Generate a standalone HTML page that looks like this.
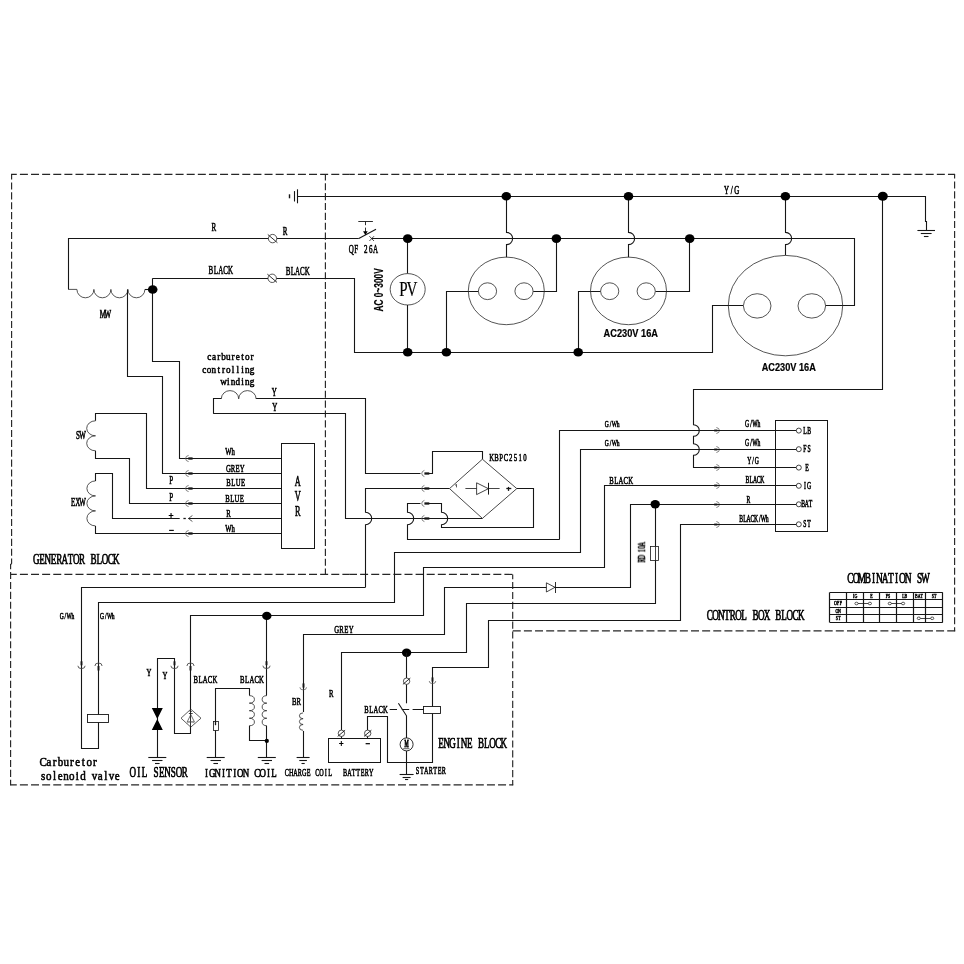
<!DOCTYPE html>
<html lang="en"><head><meta charset="utf-8"><title>Generator wiring diagram</title>
<style>
html,body{margin:0;padding:0;background:#fff;}
body{width:964px;height:964px;overflow:hidden;font-family:"Liberation Serif",serif;}
svg{display:block;}
</style></head>
<body>
<svg width="964" height="964" viewBox="0 0 964 964">
<rect width="964" height="964" fill="#fff"/>
<path d="M11.0 174.4 L349.3 174.4" fill="none" stroke="#262626" stroke-width="1.15" stroke-dasharray="8.0 3.120" stroke-dashoffset="2.22"/>
<path d="M349.3 174.4 L955.1 174.4" fill="none" stroke="#262626" stroke-width="1.15" stroke-dasharray="8.0 3.133" stroke-dashoffset="2.53"/>
<path d="M11.6 174.4 L11.6 563.4" fill="none" stroke="#262626" stroke-width="1.15" stroke-dasharray="7.1 2.800" stroke-dashoffset="1.90"/>
<path d="M11.6 563 Q11.6 564.2 10.6 564.4" fill="none" stroke="#262626" stroke-width="1.1" />
<path d="M10.6 563.9 L10.6 785.3" fill="none" stroke="#262626" stroke-width="1.15" stroke-dasharray="7.1 2.790" stroke-dashoffset="1.79"/>
<path d="M325.4 174.4 L325.4 574.4" fill="none" stroke="#262626" stroke-width="1.15" stroke-dasharray="7.1 2.782" stroke-dashoffset="1.08"/>
<path d="M10.6 574.4 L349.3 574.4" fill="none" stroke="#262626" stroke-width="1.15" stroke-dasharray="8.0 3.120" stroke-dashoffset="1.82"/>
<path d="M349.3 574.4 L513.2 574.4" fill="none" stroke="#262626" stroke-width="1.15" stroke-dasharray="8.0 3.100" stroke-dashoffset="0.30"/>
<path d="M512.7 574.4 L512.7 785.3" fill="none" stroke="#262626" stroke-width="1.15" stroke-dasharray="7.1 2.800" stroke-dashoffset="2.30"/>
<path d="M10.1 784.8 L513.2 784.8" fill="none" stroke="#262626" stroke-width="1.15" stroke-dasharray="8.0 3.120" stroke-dashoffset="1.32"/>
<path d="M512.2 630.8 L955.2 630.8" fill="none" stroke="#262626" stroke-width="1.15" stroke-dasharray="8.0 3.140" stroke-dashoffset="10.58"/>
<path d="M954.6 174.4 L954.6 631.3" fill="none" stroke="#262626" stroke-width="1.15" stroke-dasharray="7.1 2.805" stroke-dashoffset="2.90"/>
<path d="M297.5 196.5 L925.5 196.5 L925.5 221.5 L926.5 221.5 L926.5 230.3" fill="none" stroke="#161616" stroke-width="1.1" />
<path d="M297.5 189.3 L297.5 203.3" fill="none" stroke="#161616" stroke-width="1.1" />
<path d="M294.5 191.1 L294.5 201.5" fill="none" stroke="#161616" stroke-width="1.1" />
<path d="M289.5 194.3 L289.5 198.3" fill="none" stroke="#161616" stroke-width="1.4" />
<path d="M917.4 230.5 L935.0 230.5" fill="none" stroke="#161616" stroke-width="1.1" />
<path d="M920.8 233.5 L931.6 233.5" fill="none" stroke="#161616" stroke-width="1.1" />
<path d="M923.9 236.5 L928.5 236.5" fill="none" stroke="#161616" stroke-width="1.1" />
<path d="M68.5 289.4 L68.5 238.5 L358.8 238.5" fill="none" stroke="#161616" stroke-width="1.1" />
<path d="M371.7 238.5 L854.5 238.5 L854.5 305.5 L825.4 305.5" fill="none" stroke="#161616" stroke-width="1.1" />
<path d="M68.4 289.4 L76.9 289.4 A8.5 8.4 0 0 0 93.9 289.4 A8.5 8.4 0 0 0 110.9 289.4 A8.5 8.4 0 0 0 127.9 289.4 A8.5 8.4 0 0 0 144.9 289.4 " fill="none" stroke="#2a2a2a" stroke-width="0.8" />
<path d="M144.9 289.5 L152.7 289.5" fill="none" stroke="#161616" stroke-width="1.1" />
<path d="M152.7 278.5 L354.5 278.5 L354.5 352.5 L712.5 352.5 L712.5 305.5 L743.0 305.5" fill="none" stroke="#161616" stroke-width="1.1" />
<path d="M152.5 278.3 L152.5 361.5 L179.5 361.5 L179.5 458.5 L185.0 458.5" fill="none" stroke="#161616" stroke-width="1.1" />
<path d="M127.5 289.4 L127.5 376.5 L162.5 376.5 L162.5 473.5 L185.0 473.5" fill="none" stroke="#161616" stroke-width="1.1" />
<ellipse cx="152.7" cy="289.5" rx="4.8" ry="4.3" fill="#000"/>
<circle cx="272.6" cy="238.6" r="4.2" fill="#fff" stroke="#2a2a2a" stroke-width="0.8"/>
<path d="M267.8 234.5 L277.4 242.7" fill="none" stroke="#161616" stroke-width="0.9" />
<circle cx="272.2" cy="278.3" r="4.2" fill="#fff" stroke="#2a2a2a" stroke-width="0.8"/>
<path d="M267.4 274.2 L277.0 282.4" fill="none" stroke="#161616" stroke-width="0.9" />
<path d="M358.8 238.6 L376.0 229.2" fill="none" stroke="#161616" stroke-width="1.1" />
<path d="M369.4 236.2 L374.0 241.0" fill="none" stroke="#161616" stroke-width="0.8" />
<path d="M369.4 241.0 L374.0 236.2" fill="none" stroke="#161616" stroke-width="0.8" />
<path d="M358.3 221.5 L372.9 221.5" fill="none" stroke="#161616" stroke-width="0.9" />
<path d="M365.5 221.4 L365.5 225.2" fill="none" stroke="#161616" stroke-width="0.9" />
<path d="M365.5 227.6 L365.5 232.0" fill="none" stroke="#161616" stroke-width="0.9" />
<path d="M363.1 231.2 L367.7 231.2 L365.4 235.2 Z" fill="#000"/>
<path d="M407.5 238.6 L407.5 352.2" fill="none" stroke="#161616" stroke-width="1.1" />
<ellipse cx="407.7" cy="289.3" rx="17.5" ry="15.7" fill="#fff" stroke="#2a2a2a" stroke-width="0.8"/>
<ellipse cx="407.7" cy="238.6" rx="4.8" ry="4.3" fill="#000"/>
<ellipse cx="407.7" cy="352.2" rx="4.8" ry="4.3" fill="#000"/>
<path d="M506.5 196.3 L506.5 232.4 A6.1 6.1 0 0 1 506.5 244.6 L506.5 257.2" fill="none" stroke="#161616" stroke-width="1.1" />
<path d="M478.9 291.5 L446.5 291.5 L446.5 352.2" fill="none" stroke="#161616" stroke-width="1.1" />
<path d="M533.1 291.5 L556.5 291.5 L556.5 238.6" fill="none" stroke="#161616" stroke-width="1.1" />
<ellipse cx="506.3" cy="290.9" rx="38.0" ry="33.8" fill="none" stroke="#2a2a2a" stroke-width="0.8"/>
<ellipse cx="487.5" cy="291.2" rx="9.1" ry="8.4" fill="#fff" stroke="#2a2a2a" stroke-width="0.8"/>
<ellipse cx="524.0" cy="291.2" rx="9.1" ry="8.4" fill="#fff" stroke="#2a2a2a" stroke-width="0.8"/>
<ellipse cx="506.3" cy="196.3" rx="4.8" ry="4.3" fill="#000"/>
<ellipse cx="446.4" cy="352.2" rx="4.8" ry="4.3" fill="#000"/>
<ellipse cx="556.4" cy="238.6" rx="4.8" ry="4.3" fill="#000"/>
<path d="M628.5 196.3 L628.5 232.4 A6.1 6.1 0 0 1 628.5 244.6 L628.5 257.2" fill="none" stroke="#161616" stroke-width="1.1" />
<path d="M601.1 291.5 L578.5 291.5 L578.5 352.2" fill="none" stroke="#161616" stroke-width="1.1" />
<path d="M655.3 291.5 L689.5 291.5 L689.5 238.6" fill="none" stroke="#161616" stroke-width="1.1" />
<ellipse cx="628.5" cy="290.9" rx="38.0" ry="33.8" fill="none" stroke="#2a2a2a" stroke-width="0.8"/>
<ellipse cx="609.7" cy="291.2" rx="9.1" ry="8.4" fill="#fff" stroke="#2a2a2a" stroke-width="0.8"/>
<ellipse cx="646.2" cy="291.2" rx="9.1" ry="8.4" fill="#fff" stroke="#2a2a2a" stroke-width="0.8"/>
<ellipse cx="628.5" cy="196.3" rx="4.8" ry="4.3" fill="#000"/>
<ellipse cx="578.2" cy="352.2" rx="4.8" ry="4.3" fill="#000"/>
<ellipse cx="689.7" cy="238.6" rx="4.8" ry="4.3" fill="#000"/>
<path d="M785.5 196.3 L785.5 232.4 A6.1 6.1 0 0 1 785.5 244.6 L785.5 255.3" fill="none" stroke="#161616" stroke-width="1.1" />
<ellipse cx="785.5" cy="305.6" rx="57.2" ry="50.2" fill="none" stroke="#2a2a2a" stroke-width="0.8"/>
<ellipse cx="757.2" cy="305.90000000000003" rx="13.8" ry="12.2" fill="#fff" stroke="#2a2a2a" stroke-width="0.8"/>
<ellipse cx="811.8" cy="305.90000000000003" rx="13.8" ry="12.2" fill="#fff" stroke="#2a2a2a" stroke-width="0.8"/>
<ellipse cx="785.4" cy="196.3" rx="4.8" ry="4.3" fill="#000"/>
<path d="M882.5 196.3 L882.5 389.5 L693.5 389.5 L693.5 424.7 A5.8 5.8 0 0 1 693.5 436.3 L693.5 443.7 A5.8 5.8 0 0 1 693.5 455.3 L693.5 467.5 L796.3 467.5" fill="none" stroke="#161616" stroke-width="1.1" />
<ellipse cx="882.8" cy="196.3" rx="5" ry="4.5" fill="#000"/>
<rect x="775.5" y="420.5" width="52.0" height="111.0" fill="none" stroke="#161616" stroke-width="1"/>
<circle cx="798.8" cy="430.6" r="2.5" fill="#fff" stroke="#161616" stroke-width="0.8"/>
<path d="M714.2 430.5 L717.4 430.5" fill="none" stroke="#161616" stroke-width="1.9" />
<path d="M716.4 427.5 A4 3.1 0 0 1 716.4 433.5" fill="none" stroke="#555" stroke-width="0.75" />
<circle cx="798.8" cy="449.2" r="2.5" fill="#fff" stroke="#161616" stroke-width="0.8"/>
<path d="M714.2 449.5 L717.4 449.5" fill="none" stroke="#161616" stroke-width="1.9" />
<path d="M716.4 446.5 A4 3.1 0 0 1 716.4 452.5" fill="none" stroke="#555" stroke-width="0.75" />
<circle cx="798.8" cy="467.6" r="2.5" fill="#fff" stroke="#161616" stroke-width="0.8"/>
<path d="M714.2 467.5 L717.4 467.5" fill="none" stroke="#161616" stroke-width="1.9" />
<path d="M716.4 464.5 A4 3.1 0 0 1 716.4 470.5" fill="none" stroke="#555" stroke-width="0.75" />
<circle cx="798.8" cy="485.8" r="2.5" fill="#fff" stroke="#161616" stroke-width="0.8"/>
<path d="M714.2 485.5 L717.4 485.5" fill="none" stroke="#161616" stroke-width="1.9" />
<path d="M716.4 482.5 A4 3.1 0 0 1 716.4 488.5" fill="none" stroke="#555" stroke-width="0.75" />
<circle cx="798.8" cy="504.3" r="2.5" fill="#fff" stroke="#161616" stroke-width="0.8"/>
<path d="M714.2 504.5 L717.4 504.5" fill="none" stroke="#161616" stroke-width="1.9" />
<path d="M716.4 501.5 A4 3.1 0 0 1 716.4 507.5" fill="none" stroke="#555" stroke-width="0.75" />
<circle cx="798.8" cy="524.3" r="2.5" fill="#fff" stroke="#161616" stroke-width="0.8"/>
<path d="M714.2 524.5 L717.4 524.5" fill="none" stroke="#161616" stroke-width="1.9" />
<path d="M716.4 521.5 A4 3.1 0 0 1 716.4 527.5" fill="none" stroke="#555" stroke-width="0.75" />
<path d="M796.3 430.5 L559.5 430.5 L559.5 539.4" fill="none" stroke="#161616" stroke-width="1.1" />
<path d="M796.3 449.5 L580.5 449.5 L580.5 552.5 L394.5 552.5 L394.5 602.5 L98.5 602.5 L98.5 748.5 L81.5 748.5 L81.5 587.5 L365.3 587.5" fill="none" stroke="#161616" stroke-width="1.1" />
<path d="M796.3 485.5 L604.5 485.5 L604.5 567.5 L423.5 567.5 L423.5 615.5 L190.5 615.5 L190.5 733.5 L174.5 733.5 L174.5 658.5 L157.5 658.5 L157.5 757.3" fill="none" stroke="#161616" stroke-width="1.1" />
<path d="M796.3 504.5 L630.5 504.5 L630.5 587.5 L444.5 587.5 L444.5 634.5 L303.5 634.5 L303.5 757.3" fill="none" stroke="#161616" stroke-width="1.1" />
<path d="M655.5 504.3 L655.5 603.5 L466.5 603.5 L466.5 652.5 L341.5 652.5 L341.5 730.5" fill="none" stroke="#161616" stroke-width="1.1" />
<path d="M796.3 524.5 L680.5 524.5 L680.5 620.5 L488.5 620.5 L488.5 667.5 L432.5 667.5 L432.5 762.5 L387.5 762.5 L387.5 716.5 L367.5 716.5 L367.5 730.5" fill="none" stroke="#161616" stroke-width="1.1" />
<ellipse cx="655.2" cy="504.3" rx="4.7" ry="4.2" fill="#000"/>
<rect x="650.5" y="546.5" width="8.0" height="14.0" fill="#fff" stroke="#161616" stroke-width="0.8"/>
<path d="M655.5 546.6 L655.5 560.9" fill="none" stroke="#161616" stroke-width="0.8" />
<path d="M546.4 582.8 L546.4 592 L555 587.3 Z" fill="#fff" stroke="#161616" stroke-width="0.8"/>
<path d="M555.5 582.0 L555.5 593.0" fill="none" stroke="#161616" stroke-width="0.9" />
<path d="M213.5 413.6 L213.5 398.5 L221.3 398.5" fill="none" stroke="#161616" stroke-width="1.1" />
<path d="M221.3 398.9 A8.7 8.3 0 0 1 238.7 398.9 A8.7 8.3 0 0 1 256.1 398.9" fill="none" stroke="#2a2a2a" stroke-width="0.8" />
<path d="M256.1 398.5 L365.5 398.5 L365.5 473.5 L420.5 473.5" fill="none" stroke="#161616" stroke-width="1.1" />
<path d="M429.0 473.5 L432.5 473.5 L432.5 451.5 L482.5 451.5 L482.5 459.2" fill="none" stroke="#161616" stroke-width="1.1" />
<path d="M213.2 413.5 L345.5 413.5 L345.5 518.5 L482.4 518.5" fill="none" stroke="#161616" stroke-width="1.1" />
<path d="M365.5 587.4 L365.5 524.7 A6.2 6.2 0 0 0 365.5 512.3 L365.5 488.5 L449.5 488.5" fill="none" stroke="#161616" stroke-width="1.1" />
<path d="M559.6 539.5 L407.5 539.5 L407.5 524.7 A6.2 6.2 0 0 0 407.5 512.3 L407.5 503.5 L420.5 503.5" fill="none" stroke="#161616" stroke-width="1.1" />
<path d="M429.0 503.5 L441.5 503.5 L441.5 512.3 A6.2 6.2 0 0 1 441.5 524.7 L441.5 527.5 L533.5 527.5 L533.5 488.5 L516.8 488.5" fill="none" stroke="#161616" stroke-width="1.1" />
<path d="M482.4 459.2 L516.8 488.6 L482.4 518.4 L449.5 488.6 Z" fill="none" stroke="#333" stroke-width="0.9" />
<path d="M465.4 488.5 L499.6 488.5" fill="none" stroke="#161616" stroke-width="0.8" />
<path d="M476.6 482.8 L476.6 494.6 L488.4 488.7 Z" fill="#fff" stroke="#161616" stroke-width="0.8"/>
<path d="M488.5 482.8 L488.5 494.6" fill="none" stroke="#161616" stroke-width="1.0" />
<path d="M506.3 488.5 L511.3 488.5" fill="none" stroke="#161616" stroke-width="1.3" />
<path d="M508.5 486.9 L508.5 490.9" fill="none" stroke="#161616" stroke-width="1.3" />
<path d="M455.0 485.3 L456.5 484.4 L456.5 487.4" fill="none" stroke="#161616" stroke-width="0.7" />
<path d="M424.4 470.4 A4 3.3 0 0 0 424.4 476.6" fill="none" stroke="#555" stroke-width="0.75" />
<path d="M424.4 473.5 L429.3 473.5" fill="none" stroke="#161616" stroke-width="2.3" />
<path d="M424.4 485.4 A4 3.3 0 0 0 424.4 491.6" fill="none" stroke="#555" stroke-width="0.75" />
<path d="M424.4 488.5 L429.3 488.5" fill="none" stroke="#161616" stroke-width="2.3" />
<path d="M424.4 500.4 A4 3.3 0 0 0 424.4 506.6" fill="none" stroke="#555" stroke-width="0.75" />
<path d="M424.4 503.5 L429.3 503.5" fill="none" stroke="#161616" stroke-width="2.3" />
<path d="M424.4 515.4 A4 3.3 0 0 0 424.4 521.6" fill="none" stroke="#555" stroke-width="0.75" />
<path d="M424.4 518.5 L429.3 518.5" fill="none" stroke="#161616" stroke-width="2.3" />
<rect x="281.5" y="443.5" width="33.0" height="105.0" fill="none" stroke="#161616" stroke-width="1"/>
<path d="M185.0 458.5 L281.2 458.5" fill="none" stroke="#161616" stroke-width="1.1" />
<path d="M188.6 455.4 A4 3.2 0 0 0 188.6 461.6" fill="none" stroke="#555" stroke-width="0.75" />
<path d="M188.3 458.5 L192.6 458.5" fill="none" stroke="#161616" stroke-width="2.3" />
<path d="M185.0 473.5 L281.2 473.5" fill="none" stroke="#161616" stroke-width="1.1" />
<path d="M188.6 470.4 A4 3.2 0 0 0 188.6 476.6" fill="none" stroke="#555" stroke-width="0.75" />
<path d="M188.3 473.5 L192.6 473.5" fill="none" stroke="#161616" stroke-width="2.3" />
<path d="M185.0 488.5 L281.2 488.5" fill="none" stroke="#161616" stroke-width="1.1" />
<path d="M188.6 485.4 A4 3.2 0 0 0 188.6 491.6" fill="none" stroke="#555" stroke-width="0.75" />
<path d="M188.3 488.5 L192.6 488.5" fill="none" stroke="#161616" stroke-width="2.3" />
<path d="M185.0 503.5 L281.2 503.5" fill="none" stroke="#161616" stroke-width="1.1" />
<path d="M188.6 500.4 A4 3.2 0 0 0 188.6 506.6" fill="none" stroke="#555" stroke-width="0.75" />
<path d="M188.3 503.5 L192.6 503.5" fill="none" stroke="#161616" stroke-width="2.3" />
<path d="M188.2 518.5 L281.2 518.5" fill="none" stroke="#161616" stroke-width="1.1" />
<path d="M192.4 515.5 L188.4 518.5 L192.4 521.5" fill="none" stroke="#333" stroke-width="0.8" />
<path d="M183.4 518.5 L185.8 518.5" fill="none" stroke="#161616" stroke-width="1.3" />
<path d="M185.0 533.5 L281.2 533.5" fill="none" stroke="#161616" stroke-width="1.1" />
<path d="M188.6 530.4 A4 3.2 0 0 0 188.6 536.6" fill="none" stroke="#555" stroke-width="0.75" />
<path d="M188.3 533.5 L192.6 533.5" fill="none" stroke="#161616" stroke-width="2.3" />
<path d="M185.0 488.5 L146.5 488.5 L146.5 413.5 L95.5 413.5 L95.5 420.8" fill="none" stroke="#161616" stroke-width="1.1" />
<path d="M95.5 420.8 A8.8 7.5 0 0 0 95.5 435.8 A8.8 7.5 0 0 0 95.5 450.8" fill="none" stroke="#2a2a2a" stroke-width="0.8" />
<path d="M95.5 450.8 L95.5 458.5 L129.5 458.5 L129.5 503.5 L185.0 503.5" fill="none" stroke="#161616" stroke-width="1.1" />
<path d="M179.7 518.5 L112.5 518.5 L112.5 473.5 L95.5 473.5 L95.5 480.9" fill="none" stroke="#161616" stroke-width="1.1" />
<path d="M95.5 480.9 A8.6 7.5 0 0 0 95.5 495.9 A8.6 7.5 0 0 0 95.5 510.9 A8.6 7.5 0 0 0 95.5 525.9" fill="none" stroke="#2a2a2a" stroke-width="0.8" />
<path d="M95.5 525.9 L95.5 533.5 L185.0 533.5" fill="none" stroke="#161616" stroke-width="1.1" />
<path d="M81.5 661.3 L81.5 665.3" fill="none" stroke="#161616" stroke-width="1.9" />
<path d="M77.9 665.8 A3.6 2.8 0 0 0 85.1 665.8" fill="none" stroke="#4a4a4a" stroke-width="0.9" />
<path d="M94.9 666.0 A3.6 3.0 0 0 1 102.1 666.0" fill="none" stroke="#4a4a4a" stroke-width="0.9" />
<path d="M98.5 666.0 L98.5 670.5" fill="none" stroke="#161616" stroke-width="1.9" />
<path d="M174.5 661.3 L174.5 665.3" fill="none" stroke="#161616" stroke-width="1.9" />
<path d="M170.9 665.8 A3.6 2.8 0 0 0 178.1 665.8" fill="none" stroke="#4a4a4a" stroke-width="0.9" />
<path d="M186.9 666.0 A3.6 3.0 0 0 1 194.1 666.0" fill="none" stroke="#4a4a4a" stroke-width="0.9" />
<path d="M190.5 666.0 L190.5 670.5" fill="none" stroke="#161616" stroke-width="1.9" />
<rect x="87.5" y="714.5" width="21.0" height="8.0" fill="#fff" stroke="#161616" stroke-width="0.9"/>
<path d="M151.8 708.1 L162.8 708.1 L157.3 719 Z M157.3 719 L162.8 729.9 L151.8 729.9 Z" fill="#000"/>
<path d="M148.3 757.5 L166.3 757.5" fill="none" stroke="#161616" stroke-width="1.1" />
<path d="M152.1 760.5 L162.5 760.5" fill="none" stroke="#161616" stroke-width="1.1" />
<path d="M155.0 763.5 L159.6 763.5" fill="none" stroke="#161616" stroke-width="1.1" />
<path d="M190.8 709.2 L201 718.2 L190.8 727.1 L181 718.2 Z" fill="#fff" stroke="#333" stroke-width="0.8"/>
<path d="M190.5 709.2 L190.5 733.4" fill="none" stroke="#161616" stroke-width="0.9" />
<path d="M190.8 714.6 L194.4 721.9 L187.2 721.9 Z" fill="none" stroke="#333" stroke-width="0.7"/>
<path d="M188.9 713.5 L192.7 713.5" fill="none" stroke="#161616" stroke-width="0.8" />
<path d="M189.6 711.5 L192.0 711.5" fill="none" stroke="#161616" stroke-width="0.6" />
<path d="M186.5 723.6 Q190.8 719.8 195.1 723.6" fill="none" stroke="#666" stroke-width="0.5" />
<path d="M266.5 615.9 L266.5 695.6" fill="none" stroke="#161616" stroke-width="1.1" />
<ellipse cx="266.8" cy="615.9" rx="4.7" ry="4.2" fill="#000"/>
<path d="M266.5 661.2 L266.5 665.2" fill="none" stroke="#161616" stroke-width="1.9" />
<path d="M262.9 665.7 A3.6 2.8 0 0 0 270.1 665.7" fill="none" stroke="#4a4a4a" stroke-width="0.9" />
<path d="M266.8 695.6 A4.9 3.78 0 0 0 266.8 703.15 A4.9 3.78 0 0 0 266.8 710.70 A4.9 3.78 0 0 0 266.8 718.25 A4.9 3.78 0 0 0 266.8 725.80 " fill="none" stroke="#2a2a2a" stroke-width="0.8" />
<path d="M266.5 725.8 L266.5 757.3" fill="none" stroke="#161616" stroke-width="1.1" />
<path d="M257.8 757.5 L275.8 757.5" fill="none" stroke="#161616" stroke-width="1.1" />
<path d="M261.6 760.5 L272.0 760.5" fill="none" stroke="#161616" stroke-width="1.1" />
<path d="M264.5 763.5 L269.1 763.5" fill="none" stroke="#161616" stroke-width="1.1" />
<path d="M249.3 695.6 A5.4 3.78 0 0 1 249.3 703.15 A5.4 3.78 0 0 1 249.3 710.70 A5.4 3.78 0 0 1 249.3 718.25 A5.4 3.78 0 0 1 249.3 725.80 " fill="none" stroke="#2a2a2a" stroke-width="0.8" />
<path d="M215.5 757.3 L215.5 688.5 L249.5 688.5 L249.5 695.6" fill="none" stroke="#161616" stroke-width="1.1" />
<path d="M249.5 725.8 L249.5 740.5 L266.8 740.5" fill="none" stroke="#161616" stroke-width="1.1" />
<circle cx="266.8" cy="740.9" r="2.1" fill="#000"/>
<rect x="213.5" y="721.5" width="5.0" height="9.0" fill="#fff" stroke="#161616" stroke-width="0.8"/>
<path d="M215.5 721.2 L215.5 725.2" fill="none" stroke="#161616" stroke-width="1.3" />
<path d="M206.7 757.5 L224.7 757.5" fill="none" stroke="#161616" stroke-width="1.1" />
<path d="M210.5 760.5 L220.9 760.5" fill="none" stroke="#161616" stroke-width="1.1" />
<path d="M213.4 763.5 L218.0 763.5" fill="none" stroke="#161616" stroke-width="1.1" />
<path d="M299.9 687.3 A3.3 2.6 0 0 0 306.5 687.3" fill="none" stroke="#555" stroke-width="0.7" />
<path d="M303.5 683.4 L303.5 687.6" fill="none" stroke="#161616" stroke-width="1.9" />
<rect x="301" y="712" width="4" height="19" fill="#fff"/>
<path d="M303.1 712.9 A3.7 2.9 0 0 0 303.1 718.7 A3.7 2.9 0 0 0 303.1 724.5 A3.7 2.9 0 0 0 303.1 730.3" fill="none" stroke="#2a2a2a" stroke-width="0.8" />
<path d="M296.6 757.5 L309.6 757.5" fill="none" stroke="#161616" stroke-width="1.1" />
<path d="M299.3 760.5 L306.9 760.5" fill="none" stroke="#161616" stroke-width="1.1" />
<path d="M301.5 763.5 L304.7 763.5" fill="none" stroke="#161616" stroke-width="1.1" />
<rect x="328.5" y="738.5" width="52.0" height="24.0" fill="#fff" stroke="#161616" stroke-width="1"/>
<path d="M341.5 736.0 L341.5 738.5" fill="none" stroke="#161616" stroke-width="1.1" />
<path d="M367.5 736.0 L367.5 738.5" fill="none" stroke="#161616" stroke-width="1.1" />
<circle cx="341.4" cy="733.3" r="3.2" fill="#fff" stroke="#2a2a2a" stroke-width="0.8"/>
<path d="M337.7 736.4 L345.1 730.2" fill="none" stroke="#161616" stroke-width="0.9" />
<circle cx="367.7" cy="733.3" r="3.2" fill="#fff" stroke="#2a2a2a" stroke-width="0.8"/>
<path d="M364.0 736.4 L371.4 730.2" fill="none" stroke="#161616" stroke-width="0.9" />
<ellipse cx="406.6" cy="652.7" rx="4.7" ry="4.2" fill="#000"/>
<path d="M406.5 652.7 L406.5 703.3" fill="none" stroke="#161616" stroke-width="1.1" />
<circle cx="406.6" cy="681.2" r="3.2" fill="#fff" stroke="#2a2a2a" stroke-width="0.8"/>
<path d="M402.9 684.3 L410.3 678.1" fill="none" stroke="#161616" stroke-width="0.9" />
<path d="M398.4 703.3 L406.5 715.8 L406.5 774.4" fill="none" stroke="#161616" stroke-width="1.1" />
<circle cx="406.6" cy="744.4" r="6.5" fill="#fff" stroke="#161616" stroke-width="0.9"/>
<path d="M403.2 748.7 L409.4 748.7" fill="none" stroke="#161616" stroke-width="0.7" />
<path d="M399.6 774.5 L413.6 774.5" fill="none" stroke="#161616" stroke-width="1.1" />
<path d="M402.6 777.5 L410.6 777.5" fill="none" stroke="#161616" stroke-width="1.1" />
<path d="M405.0 779.5 L408.2 779.5" fill="none" stroke="#161616" stroke-width="1.1" />
<rect x="423.5" y="706.5" width="17.0" height="7.0" fill="#fff" stroke="#161616" stroke-width="0.9"/>
<path d="M389.7 709.5 L397.0 709.5" fill="none" stroke="#161616" stroke-width="1.0" />
<path d="M401.8 709.5 L409.2 709.5" fill="none" stroke="#161616" stroke-width="1.0" />
<path d="M412.6 709.5 L424.0 709.5" fill="none" stroke="#161616" stroke-width="1.0" />
<path d="M429.2 681 A3.3 2.6 0 0 0 435.8 681" fill="none" stroke="#555" stroke-width="0.7" />
<path d="M432.5 677.4 L432.5 681.6" fill="none" stroke="#161616" stroke-width="1.9" />
<path d="M829.5 592.4 L829.5 622.5" fill="none" stroke="#161616" stroke-width="1.2" />
<path d="M846.5 592.4 L846.5 622.5" fill="none" stroke="#161616" stroke-width="1.2" />
<path d="M863.5 592.4 L863.5 622.5" fill="none" stroke="#161616" stroke-width="1.2" />
<path d="M879.5 592.4 L879.5 622.5" fill="none" stroke="#161616" stroke-width="1.2" />
<path d="M896.5 592.4 L896.5 622.5" fill="none" stroke="#161616" stroke-width="1.2" />
<path d="M913.5 592.4 L913.5 622.5" fill="none" stroke="#161616" stroke-width="1.2" />
<path d="M925.5 592.4 L925.5 622.5" fill="none" stroke="#161616" stroke-width="1.2" />
<path d="M942.5 592.4 L942.5 622.5" fill="none" stroke="#161616" stroke-width="1.2" />
<path d="M829.8 592.5 L942.7 592.5" fill="none" stroke="#161616" stroke-width="1.2" />
<path d="M829.8 599.5 L942.7 599.5" fill="none" stroke="#161616" stroke-width="1.2" />
<path d="M829.8 607.5 L942.7 607.5" fill="none" stroke="#161616" stroke-width="1.2" />
<path d="M829.8 614.5 L942.7 614.5" fill="none" stroke="#161616" stroke-width="1.2" />
<path d="M829.8 622.5 L942.7 622.5" fill="none" stroke="#161616" stroke-width="1.2" />
<path d="M856.5 603.5 L869.9 603.5" fill="none" stroke="#161616" stroke-width="0.8" />
<ellipse cx="856.5" cy="603.5" rx="1.6" ry="1.3" fill="#fff" stroke="#161616" stroke-width="0.7"/>
<ellipse cx="869.9" cy="603.5" rx="1.6" ry="1.3" fill="#fff" stroke="#161616" stroke-width="0.7"/>
<path d="M889.8 603.5 L903.1 603.5" fill="none" stroke="#161616" stroke-width="0.8" />
<ellipse cx="889.8" cy="603.5" rx="1.6" ry="1.3" fill="#fff" stroke="#161616" stroke-width="0.7"/>
<ellipse cx="903.1" cy="603.5" rx="1.6" ry="1.3" fill="#fff" stroke="#161616" stroke-width="0.7"/>
<path d="M918.8 618.5 L932.2 618.5" fill="none" stroke="#161616" stroke-width="0.8" />
<ellipse cx="918.8" cy="618.3" rx="1.6" ry="1.3" fill="#fff" stroke="#161616" stroke-width="0.7"/>
<ellipse cx="932.2" cy="618.3" rx="1.6" ry="1.3" fill="#fff" stroke="#161616" stroke-width="0.7"/>
<g style="will-change:transform">
<text transform="translate(211.2 230.8) scale(0.600 1)" x="4.25" y="0" text-anchor="middle" font-family='"Liberation Serif",serif' font-size="11.66" stroke="#000" stroke-width="0.5" vector-effect="non-scaling-stroke" fill="#000">R</text>
<text transform="translate(208.5 273.8) scale(0.600 1)" x="4.08 12.25 20.42 28.58 36.75" y="0" text-anchor="middle" font-family='"Liberation Serif",serif' font-size="11.66" stroke="#000" stroke-width="0.5" vector-effect="non-scaling-stroke" fill="#000">BLACK</text>
<text transform="translate(282.5 234.9) scale(0.600 1)" x="4.25" y="0" text-anchor="middle" font-family='"Liberation Serif",serif' font-size="11.66" stroke="#000" stroke-width="0.5" vector-effect="non-scaling-stroke" fill="#000">R</text>
<text transform="translate(285.6 275.2) scale(0.600 1)" x="4.00 12.00 20.00 28.00 36.00" y="0" text-anchor="middle" font-family='"Liberation Serif",serif' font-size="11.66" stroke="#000" stroke-width="0.5" vector-effect="non-scaling-stroke" fill="#000">BLACK</text>
<text transform="translate(100.2 318.4) scale(0.600 1)" x="4.29 12.88" y="0" text-anchor="middle" font-family='"Liberation Serif",serif' font-size="11.66" stroke="#000" stroke-width="0.5" vector-effect="non-scaling-stroke" fill="#000">MW</text>
<text transform="translate(348.9 252.8) scale(0.600 1)" x="4.03 12.08 20.14 28.19 36.25 44.31" y="0" text-anchor="middle" font-family='"Liberation Serif",serif' font-size="11.66" stroke="#000" stroke-width="0.5" vector-effect="non-scaling-stroke" fill="#000">QF 26A</text>
<text transform="translate(399.0 296.3) scale(0.727 1)" x="5.95 17.84" y="0" text-anchor="middle" font-family='"Liberation Serif",serif' font-size="20.68" stroke="#000" stroke-width="0.2" vector-effect="non-scaling-stroke" fill="#000">PV</text>
<text x="383.2" y="311.6" font-family='"Liberation Sans",sans-serif' font-size="13.2" textLength="43.4" lengthAdjust="spacingAndGlyphs" font-weight="bold" stroke="#000" stroke-width="0.2" transform="rotate(-90 383.2 311.6)" fill="#000">AC 0~300V</text>
<text transform="translate(724.0 194.4) scale(0.600 1)" x="4.22 12.67 21.11" y="0" text-anchor="middle" font-family='"Liberation Serif",serif' font-size="11.66" stroke="#000" stroke-width="0.5" vector-effect="non-scaling-stroke" fill="#000">Y/G</text>
<text x="603.6" y="337.4" font-family='"Liberation Sans",sans-serif' font-size="10" textLength="54.4" lengthAdjust="spacingAndGlyphs" font-weight="bold" stroke="#000" stroke-width="0.2" fill="#000">AC230V 16A</text>
<text x="761.7" y="371.2" font-family='"Liberation Sans",sans-serif' font-size="10" textLength="54.1" lengthAdjust="spacingAndGlyphs" font-weight="bold" stroke="#000" stroke-width="0.2" fill="#000">AC230V 16A</text>
<text transform="translate(206.9 359.9) scale(0.836 1)" x="2.84 8.52 14.20 19.88 25.56 31.24 36.92 42.60 48.27 53.95" y="0" text-anchor="middle" font-family='"Liberation Serif",serif' font-size="11.0" stroke="#000" stroke-width="0.5" vector-effect="non-scaling-stroke" fill="#000">carburetor</text>
<text transform="translate(202.0 372.9) scale(0.836 1)" x="2.85 8.54 14.24 19.93 25.63 31.33 37.02 42.72 48.41 54.11 59.80" y="0" text-anchor="middle" font-family='"Liberation Serif",serif' font-size="11.0" stroke="#000" stroke-width="0.5" vector-effect="non-scaling-stroke" fill="#000">controlling</text>
<text transform="translate(221.2 385.1) scale(0.836 1)" x="2.84 8.51 14.18 19.85 25.52 31.19 36.86" y="0" text-anchor="middle" font-family='"Liberation Serif",serif' font-size="11.0" stroke="#000" stroke-width="0.5" vector-effect="non-scaling-stroke" fill="#000">winding</text>
<text transform="translate(271.3 395.6) scale(0.600 1)" x="4.83" y="0" text-anchor="middle" font-family='"Liberation Serif",serif' font-size="11.66" stroke="#000" stroke-width="0.5" vector-effect="non-scaling-stroke" fill="#000">Y</text>
<text transform="translate(271.8 411.0) scale(0.600 1)" x="4.83" y="0" text-anchor="middle" font-family='"Liberation Serif",serif' font-size="11.66" stroke="#000" stroke-width="0.5" vector-effect="non-scaling-stroke" fill="#000">Y</text>
<text transform="translate(75.6 438.8) scale(0.600 1)" x="3.88 11.63" y="0" text-anchor="middle" font-family='"Liberation Serif",serif' font-size="11.66" stroke="#000" stroke-width="0.5" vector-effect="non-scaling-stroke" fill="#000">SW</text>
<text transform="translate(70.8 506.2) scale(0.600 1)" x="3.92 11.75 19.58" y="0" text-anchor="middle" font-family='"Liberation Serif",serif' font-size="11.66" stroke="#000" stroke-width="0.5" vector-effect="non-scaling-stroke" fill="#000">EXW</text>
<text transform="translate(168.9 484.0) scale(0.600 1)" x="3.83" y="0" text-anchor="middle" font-family='"Liberation Serif",serif' font-size="11.66" stroke="#000" stroke-width="0.5" vector-effect="non-scaling-stroke" fill="#000">P</text>
<text transform="translate(168.9 501.0) scale(0.600 1)" x="3.83" y="0" text-anchor="middle" font-family='"Liberation Serif",serif' font-size="11.66" stroke="#000" stroke-width="0.5" vector-effect="non-scaling-stroke" fill="#000">P</text>
<text transform="translate(168.0 519.2) scale(0.818 1)" x="3.67" y="0" text-anchor="middle" font-family='"Liberation Serif",serif' font-size="11.0" stroke="#000" stroke-width="0.5" vector-effect="non-scaling-stroke" fill="#000">+</text>
<text transform="translate(168.2 534.3) scale(0.818 1)" x="3.67" y="0" text-anchor="middle" font-family='"Liberation Serif",serif' font-size="11.0" stroke="#000" stroke-width="0.5" vector-effect="non-scaling-stroke" fill="#000">−</text>
<text transform="translate(226.2 455.0) scale(0.600 1)" x="3.88 11.63" y="0" text-anchor="middle" font-family='"Liberation Serif",serif' font-size="11.22" stroke="#000" stroke-width="0.5" vector-effect="non-scaling-stroke" fill="#000">Wh</text>
<text transform="translate(226.2 471.6) scale(0.600 1)" x="3.79 11.38 18.96 26.54" y="0" text-anchor="middle" font-family='"Liberation Serif",serif' font-size="11.22" stroke="#000" stroke-width="0.5" vector-effect="non-scaling-stroke" fill="#000">GREY</text>
<text transform="translate(226.2 486.1) scale(0.600 1)" x="4.02 12.06 20.10 28.15" y="0" text-anchor="middle" font-family='"Liberation Serif",serif' font-size="11.22" stroke="#000" stroke-width="0.5" vector-effect="non-scaling-stroke" fill="#000">BLUE</text>
<text transform="translate(225.0 501.7) scale(0.600 1)" x="4.02 12.06 20.10 28.15" y="0" text-anchor="middle" font-family='"Liberation Serif",serif' font-size="11.22" stroke="#000" stroke-width="0.5" vector-effect="non-scaling-stroke" fill="#000">BLUE</text>
<text transform="translate(226.2 517.2) scale(0.600 1)" x="3.83" y="0" text-anchor="middle" font-family='"Liberation Serif",serif' font-size="11.22" stroke="#000" stroke-width="0.5" vector-effect="non-scaling-stroke" fill="#000">R</text>
<text transform="translate(226.2 532.2) scale(0.600 1)" x="3.88 11.63" y="0" text-anchor="middle" font-family='"Liberation Serif",serif' font-size="11.22" stroke="#000" stroke-width="0.5" vector-effect="non-scaling-stroke" fill="#000">Wh</text>
<text transform="translate(294.9 485.9) scale(0.600 1)" x="4.75" y="0" text-anchor="middle" font-family='"Liberation Serif",serif' font-size="13.86" stroke="#000" stroke-width="0.5" vector-effect="non-scaling-stroke" fill="#000">A</text>
<text transform="translate(294.9 501.1) scale(0.600 1)" x="4.75" y="0" text-anchor="middle" font-family='"Liberation Serif",serif' font-size="13.86" stroke="#000" stroke-width="0.5" vector-effect="non-scaling-stroke" fill="#000">V</text>
<text transform="translate(294.9 515.9) scale(0.600 1)" x="4.75" y="0" text-anchor="middle" font-family='"Liberation Serif",serif' font-size="13.86" stroke="#000" stroke-width="0.5" vector-effect="non-scaling-stroke" fill="#000">R</text>
<text transform="translate(33.4 563.9) scale(0.664 1)" x="4.31 12.93 21.55 30.17 38.79 47.41 56.02 64.64 73.26 81.88 90.50 99.12 107.74 116.36 124.98" y="0" text-anchor="middle" font-family='"Liberation Serif",serif' font-size="13.64" stroke="#000" stroke-width="0.6" vector-effect="non-scaling-stroke" fill="#000">GENERATOR BLOCK</text>
<text transform="translate(489.4 460.9) scale(0.600 1)" x="3.94 11.81 19.69 27.56 35.44 43.31 51.19 59.06" y="0" text-anchor="middle" font-family='"Liberation Serif",serif' font-size="11.22" stroke="#000" stroke-width="0.5" vector-effect="non-scaling-stroke" fill="#000">KBPC2510</text>
<text transform="translate(604.9 426.7) scale(0.600 1)" x="3.12 9.38 15.62 21.88" y="0" text-anchor="middle" font-family='"Liberation Serif",serif' font-size="9.24" stroke="#000" stroke-width="0.5" vector-effect="non-scaling-stroke" fill="#000">G/Wh</text>
<text transform="translate(604.9 446.2) scale(0.600 1)" x="3.12 9.38 15.62 21.88" y="0" text-anchor="middle" font-family='"Liberation Serif",serif' font-size="9.24" stroke="#000" stroke-width="0.5" vector-effect="non-scaling-stroke" fill="#000">G/Wh</text>
<text transform="translate(609.1 484.0) scale(0.600 1)" x="3.98 11.95 19.92 27.88 35.85" y="0" text-anchor="middle" font-family='"Liberation Serif",serif' font-size="11.22" stroke="#000" stroke-width="0.5" vector-effect="non-scaling-stroke" fill="#000">BLACK</text>
<text transform="translate(745.2 426.6) scale(0.600 1)" x="3.25 9.75 16.25 22.75" y="0" text-anchor="middle" font-family='"Liberation Serif",serif' font-size="9.46" stroke="#000" stroke-width="0.5" vector-effect="non-scaling-stroke" fill="#000">G/Wh</text>
<text transform="translate(745.2 446.2) scale(0.600 1)" x="3.25 9.75 16.25 22.75" y="0" text-anchor="middle" font-family='"Liberation Serif",serif' font-size="9.46" stroke="#000" stroke-width="0.5" vector-effect="non-scaling-stroke" fill="#000">G/Wh</text>
<text transform="translate(747.5 464.3) scale(0.600 1)" x="3.14 9.42 15.69" y="0" text-anchor="middle" font-family='"Liberation Serif",serif' font-size="9.46" stroke="#000" stroke-width="0.5" vector-effect="non-scaling-stroke" fill="#000">Y/G</text>
<text transform="translate(745.6 482.7) scale(0.600 1)" x="3.12 9.35 15.58 21.82 28.05" y="0" text-anchor="middle" font-family='"Liberation Serif",serif' font-size="9.46" stroke="#000" stroke-width="0.5" vector-effect="non-scaling-stroke" fill="#000">BLACK</text>
<text transform="translate(746.4 502.6) scale(0.600 1)" x="3.33" y="0" text-anchor="middle" font-family='"Liberation Serif",serif' font-size="9.46" stroke="#000" stroke-width="0.5" vector-effect="non-scaling-stroke" fill="#000">R</text>
<text transform="translate(739.4 521.7) scale(0.600 1)" x="3.09 9.28 15.47 21.66 27.84 34.03 40.22 46.41" y="0" text-anchor="middle" font-family='"Liberation Serif",serif' font-size="9.46" stroke="#000" stroke-width="0.5" vector-effect="non-scaling-stroke" fill="#000">BLACK/Wh</text>
<text transform="translate(802.8 433.6) scale(0.600 1)" x="3.46 10.38" y="0" text-anchor="middle" font-family='"Liberation Serif",serif' font-size="9.46" stroke="#000" stroke-width="0.5" vector-effect="non-scaling-stroke" fill="#000">LB</text>
<text transform="translate(802.8 452.2) scale(0.600 1)" x="3.46 10.38" y="0" text-anchor="middle" font-family='"Liberation Serif",serif' font-size="9.46" stroke="#000" stroke-width="0.5" vector-effect="non-scaling-stroke" fill="#000">FS</text>
<text transform="translate(804.8 470.6) scale(0.600 1)" x="3.50" y="0" text-anchor="middle" font-family='"Liberation Serif",serif' font-size="9.46" stroke="#000" stroke-width="0.5" vector-effect="non-scaling-stroke" fill="#000">E</text>
<text transform="translate(802.8 488.8) scale(0.600 1)" x="3.46 10.38" y="0" text-anchor="middle" font-family='"Liberation Serif",serif' font-size="9.46" stroke="#000" stroke-width="0.5" vector-effect="non-scaling-stroke" fill="#000">IG</text>
<text transform="translate(801.2 507.3) scale(0.600 1)" x="3.08 9.25 15.42" y="0" text-anchor="middle" font-family='"Liberation Serif",serif' font-size="9.46" stroke="#000" stroke-width="0.5" vector-effect="non-scaling-stroke" fill="#000">BAT</text>
<text transform="translate(802.8 527.3) scale(0.600 1)" x="3.46 10.38" y="0" text-anchor="middle" font-family='"Liberation Serif",serif' font-size="9.46" stroke="#000" stroke-width="0.5" vector-effect="non-scaling-stroke" fill="#000">ST</text>
<text transform="translate(644.9 562.0) rotate(-90) scale(0.600 1)" x="2.72 8.17 13.61 19.06 24.50 29.94" y="0" text-anchor="middle" font-family='"Liberation Serif",serif' font-size="9.46" stroke="#000" stroke-width="0.5" vector-effect="non-scaling-stroke" fill="#000">RD 10A</text>
<text transform="translate(847.6 582.7) scale(0.664 1)" x="4.34 13.01 21.69 30.36 39.04 47.71 56.39 65.06 73.74 82.41 91.09 99.76 108.44 117.11" y="0" text-anchor="middle" font-family='"Liberation Serif",serif' font-size="14.08" stroke="#000" stroke-width="0.6" vector-effect="non-scaling-stroke" fill="#000">COMBINATION SW</text>
<text transform="translate(707.0 620.3) scale(0.664 1)" x="4.30 12.90 21.49 30.09 38.69 47.29 55.89 64.48 73.08 81.68 90.28 98.88 107.47 116.07 124.67 133.27 141.87" y="0" text-anchor="middle" font-family='"Liberation Serif",serif' font-size="13.64" stroke="#000" stroke-width="0.6" vector-effect="non-scaling-stroke" fill="#000">CONTROL BOX BLOCK</text>
<text transform="translate(852.6 598.2) scale(0.600 1)" x="1.92 5.75" y="0" text-anchor="middle" font-family='"Liberation Serif",serif' font-size="6.6" stroke="#000" stroke-width="0.45" vector-effect="non-scaling-stroke" fill="#000">IG</text>
<text transform="translate(870.2 598.2) scale(0.600 1)" x="2.00" y="0" text-anchor="middle" font-family='"Liberation Serif",serif' font-size="6.6" stroke="#000" stroke-width="0.45" vector-effect="non-scaling-stroke" fill="#000">E</text>
<text transform="translate(885.6 598.2) scale(0.600 1)" x="1.92 5.75" y="0" text-anchor="middle" font-family='"Liberation Serif",serif' font-size="6.6" stroke="#000" stroke-width="0.45" vector-effect="non-scaling-stroke" fill="#000">FS</text>
<text transform="translate(902.4 598.2) scale(0.600 1)" x="1.92 5.75" y="0" text-anchor="middle" font-family='"Liberation Serif",serif' font-size="6.6" stroke="#000" stroke-width="0.45" vector-effect="non-scaling-stroke" fill="#000">LB</text>
<text transform="translate(915.1 598.2) scale(0.600 1)" x="2.22 6.67 11.11" y="0" text-anchor="middle" font-family='"Liberation Serif",serif' font-size="6.6" stroke="#000" stroke-width="0.45" vector-effect="non-scaling-stroke" fill="#000">BAT</text>
<text transform="translate(931.7 598.2) scale(0.600 1)" x="1.92 5.75" y="0" text-anchor="middle" font-family='"Liberation Serif",serif' font-size="6.6" stroke="#000" stroke-width="0.45" vector-effect="non-scaling-stroke" fill="#000">ST</text>
<text transform="translate(834.1 605.1) scale(0.600 1)" x="2.28 6.83 11.39" y="0" text-anchor="middle" font-family='"Liberation Serif",serif' font-size="6.6" stroke="#000" stroke-width="0.45" vector-effect="non-scaling-stroke" fill="#000">OFF</text>
<text transform="translate(835.5 612.7) scale(0.600 1)" x="2.25 6.75" y="0" text-anchor="middle" font-family='"Liberation Serif",serif' font-size="6.6" stroke="#000" stroke-width="0.45" vector-effect="non-scaling-stroke" fill="#000">ON</text>
<text transform="translate(835.5 620.3) scale(0.600 1)" x="2.25 6.75" y="0" text-anchor="middle" font-family='"Liberation Serif",serif' font-size="6.6" stroke="#000" stroke-width="0.45" vector-effect="non-scaling-stroke" fill="#000">ST</text>
<text transform="translate(59.8 618.7) scale(0.600 1)" x="3.10 9.31 15.52 21.73" y="0" text-anchor="middle" font-family='"Liberation Serif",serif' font-size="9.24" stroke="#000" stroke-width="0.5" vector-effect="non-scaling-stroke" fill="#000">G/Wh</text>
<text transform="translate(100.2 618.7) scale(0.600 1)" x="3.10 9.31 15.52 21.73" y="0" text-anchor="middle" font-family='"Liberation Serif",serif' font-size="9.24" stroke="#000" stroke-width="0.5" vector-effect="non-scaling-stroke" fill="#000">G/Wh</text>
<text transform="translate(146.1 675.6) scale(0.600 1)" x="4.67" y="0" text-anchor="middle" font-family='"Liberation Serif",serif' font-size="11.22" stroke="#000" stroke-width="0.5" vector-effect="non-scaling-stroke" fill="#000">Y</text>
<text transform="translate(162.1 678.8) scale(0.600 1)" x="4.67" y="0" text-anchor="middle" font-family='"Liberation Serif",serif' font-size="11.22" stroke="#000" stroke-width="0.5" vector-effect="non-scaling-stroke" fill="#000">Y</text>
<text transform="translate(193.3 682.7) scale(0.600 1)" x="4.00 12.00 20.00 28.00 36.00" y="0" text-anchor="middle" font-family='"Liberation Serif",serif' font-size="11.22" stroke="#000" stroke-width="0.5" vector-effect="non-scaling-stroke" fill="#000">BLACK</text>
<text transform="translate(239.9 682.6) scale(0.600 1)" x="4.00 12.00 20.00 28.00 36.00" y="0" text-anchor="middle" font-family='"Liberation Serif",serif' font-size="11.22" stroke="#000" stroke-width="0.5" vector-effect="non-scaling-stroke" fill="#000">BLACK</text>
<text transform="translate(334.3 632.6) scale(0.600 1)" x="4.02 12.06 20.10 28.15" y="0" text-anchor="middle" font-family='"Liberation Serif",serif' font-size="11.22" stroke="#000" stroke-width="0.5" vector-effect="non-scaling-stroke" fill="#000">GREY</text>
<text transform="translate(292.0 704.8) scale(0.600 1)" x="3.79 11.38" y="0" text-anchor="middle" font-family='"Liberation Serif",serif' font-size="11.22" stroke="#000" stroke-width="0.5" vector-effect="non-scaling-stroke" fill="#000">BR</text>
<text transform="translate(328.7 696.5) scale(0.600 1)" x="4.42" y="0" text-anchor="middle" font-family='"Liberation Serif",serif' font-size="11.22" stroke="#000" stroke-width="0.5" vector-effect="non-scaling-stroke" fill="#000">R</text>
<text transform="translate(364.2 712.6) scale(0.600 1)" x="3.93 11.80 19.67 27.53 35.40" y="0" text-anchor="middle" font-family='"Liberation Serif",serif' font-size="11.0" stroke="#000" stroke-width="0.5" vector-effect="non-scaling-stroke" fill="#000">BLACK</text>
<text transform="translate(40.3 765.9) scale(0.836 1)" x="3.44 10.31 17.19 24.06 30.94 37.81 44.69 51.56 58.44 65.31" y="0" text-anchor="middle" font-family='"Liberation Serif",serif' font-size="13.2" stroke="#000" stroke-width="0.55" vector-effect="non-scaling-stroke" fill="#000">Carburetor</text>
<text transform="translate(40.3 780.4) scale(0.836 1)" x="3.41 10.24 17.06 23.88 30.71 37.53 44.35 51.18 58.00 64.83 71.65 78.47 85.30 92.12" y="0" text-anchor="middle" font-family='"Liberation Serif",serif' font-size="13.2" stroke="#000" stroke-width="0.55" vector-effect="non-scaling-stroke" fill="#000">solenoid valve</text>
<text transform="translate(130.0 777.1) scale(0.664 1)" x="4.34 13.02 21.70 30.38 39.06 47.74 56.42 65.10 73.78 82.45" y="0" text-anchor="middle" font-family='"Liberation Serif",serif' font-size="13.64" stroke="#000" stroke-width="0.6" vector-effect="non-scaling-stroke" fill="#000">OIL SENSOR</text>
<text transform="translate(203.8 777.1) scale(0.664 1)" x="4.23 12.69 21.15 29.62 38.08 46.54 55.00 63.46 71.92 80.38 88.85 97.31 105.77" y="0" text-anchor="middle" font-family='"Liberation Serif",serif' font-size="13.42" stroke="#000" stroke-width="0.6" vector-effect="non-scaling-stroke" fill="#000">IGNITION COIL</text>
<text transform="translate(284.7 776.3) scale(0.600 1)" x="3.61 10.84 18.07 25.30 32.52 39.75 46.98 54.20 61.43 68.66 75.89" y="0" text-anchor="middle" font-family='"Liberation Serif",serif' font-size="10.34" stroke="#000" stroke-width="0.5" vector-effect="non-scaling-stroke" fill="#000">CHARGE COIL</text>
<text transform="translate(342.8 775.5) scale(0.600 1)" x="3.65 10.96 18.27 25.58 32.89 40.20 47.51" y="0" text-anchor="middle" font-family='"Liberation Serif",serif' font-size="10.34" stroke="#000" stroke-width="0.5" vector-effect="non-scaling-stroke" fill="#000">BATTERY</text>
<text transform="translate(415.4 773.8) scale(0.600 1)" x="3.65 10.96 18.27 25.58 32.89 40.20 47.51" y="0" text-anchor="middle" font-family='"Liberation Serif",serif' font-size="10.34" stroke="#000" stroke-width="0.5" vector-effect="non-scaling-stroke" fill="#000">STARTER</text>
<text transform="translate(438.3 748.4) scale(0.664 1)" x="4.29 12.88 21.47 30.06 38.65 47.24 55.83 64.42 73.01 81.60 90.18 98.77" y="0" text-anchor="middle" font-family='"Liberation Serif",serif' font-size="13.64" stroke="#000" stroke-width="0.6" vector-effect="non-scaling-stroke" fill="#000">ENGINE BLOCK</text>
<text transform="translate(403.9 747.2) scale(0.455 1)" x="5.72" y="0" text-anchor="middle" font-family='"Liberation Serif",serif' font-size="9.68" font-weight="bold" stroke="#000" stroke-width="0.6" vector-effect="non-scaling-stroke" fill="#000">M</text>
<text transform="translate(338.4 746.6) scale(0.818 1)" x="3.67" y="0" text-anchor="middle" font-family='"Liberation Serif",serif' font-size="9.9" stroke="#000" stroke-width="0.6" vector-effect="non-scaling-stroke" fill="#000">+</text>
<text transform="translate(364.8 746.6) scale(0.818 1)" x="3.67" y="0" text-anchor="middle" font-family='"Liberation Serif",serif' font-size="9.9" stroke="#000" stroke-width="0.6" vector-effect="non-scaling-stroke" fill="#000">−</text>
</g>
</svg>
</body></html>
